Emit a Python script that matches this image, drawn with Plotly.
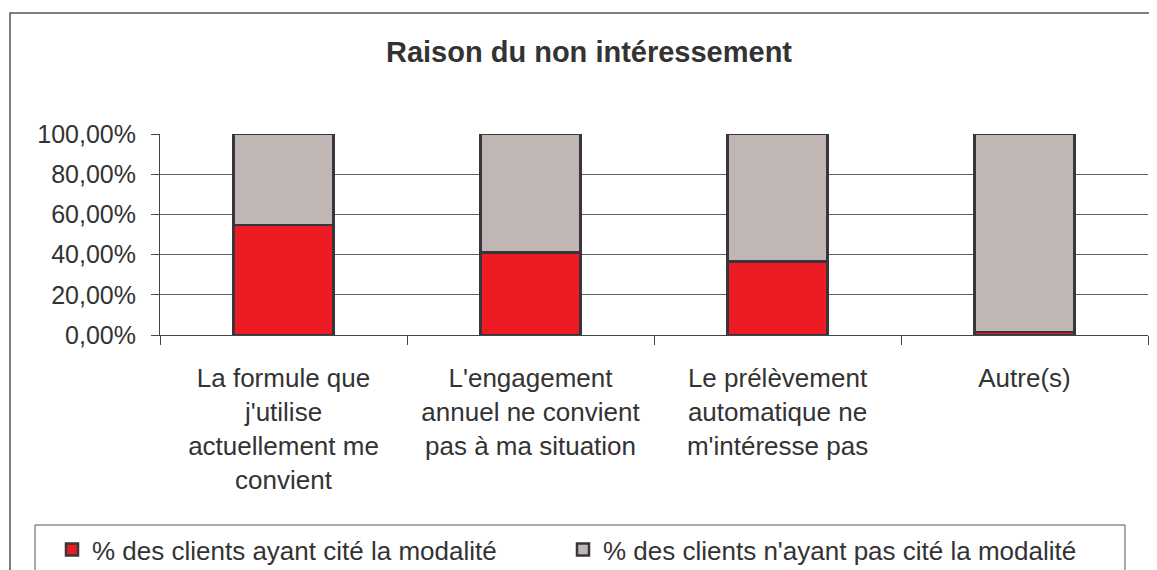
"""Stacked bar chart: Raison du non intéressement."""

import plotly.graph_objects as go

categories = [
    "La formule que<br>j'utilise<br>actuellement me<br>convient",
    "L'engagement<br>annuel ne convient<br>pas à ma situation",
    "Le prélèvement<br>automatique ne<br>m'intéresse pas",
    "Autre(s)",
]
cited = [0.547, 0.41, 0.365, 0.015]
not_cited = [1 - v for v in cited]

series_names = ["% des clients ayant cité la modalité", "% des clients n'ayant pas cité la modalité"]
colors = ["#ED1C24", "#C0B7B4"]
legend_widths = [466, 540]

# the page body adds an 8px margin, so layout is set in figure pixels
W, H = 1149, 562
L, R, T, B = 152, 9, 126, 235
plot_w = W - L - R
plot_h = H - T - B


def px_x(x):
    return (x - L) / plot_w


def px_y(y):
    return (H - B - y) / plot_h


FONT = "Liberation Sans, Arial, sans-serif"
TEXT = "#333333"

fig = go.Figure()
for name, vals, color, lw in zip(series_names, [cited, not_cited], colors, legend_widths):
    fig.add_trace(
        go.Bar(
            x=categories,
            y=vals,
            name=name,
            legendwidth=lw,
            marker={"color": color, "line": {"color": "#38363a", "width": 2.5}},
        )
    )

fig.update_layout(
    width=W,
    height=H,
    barmode="stack",
    bargap=0.595,
    separators=", ",
    margin={"l": L, "r": R, "t": T, "b": B, "autoexpand": False},
    paper_bgcolor="white",
    plot_bgcolor="white",
    font={"family": FONT, "color": TEXT, "size": 26},
    title={
        "text": "<b>Raison du non intéressement</b>",
        "x": 581 / W,
        "xref": "container",
        "xanchor": "center",
        "y": 1 - 44 / H,
        "yanchor": "middle",
        "font": {"size": 29, "color": TEXT},
    },
    showlegend=True,
    legend={
        "orientation": "h",
        "x": px_x(44),
        "xanchor": "left",
        "y": px_y(518),
        "yanchor": "top",
        "font": {"size": 26, "color": TEXT},
        "traceorder": "normal",
        "bgcolor": "rgba(0,0,0,0)",
        "itemwidth": 30,
    },
    shapes=[
        {
            "type": "rect", "xref": "paper", "yref": "paper",
            "x0": px_x(27), "x1": px_x(1117), "y0": px_y(517), "y1": px_y(600),
            "line": {"color": "#555555", "width": 1},
        },
        {
            "type": "rect", "xref": "paper", "yref": "paper",
            "x0": px_x(2), "x1": px_x(1170), "y0": px_y(5), "y1": px_y(600),
            "line": {"color": "#555555", "width": 1.5},
        },
    ],
)

fig.update_yaxes(
    range=[0, 1],
    tickvals=[0, 0.2, 0.4, 0.6, 0.8, 1.0],
    tickformat=".2%",
    showgrid=True,
    gridcolor="#5f5f5f",
    gridwidth=1,
    showline=True,
    linecolor="#444444",
    linewidth=1,
    ticks="outside",
    ticklen=8,
    tickcolor="#444444",
    zeroline=False,
    ticklabelstandoff=10,
    tickfont={"size": 25, "color": TEXT},
)
fig.update_xaxes(
    showline=True,
    linecolor="#444444",
    linewidth=1,
    ticks="outside",
    tickson="boundaries",
    ticklen=9,
    tickcolor="#444444",
    showgrid=False,
    tickangle=0,
    ticklabelstandoff=20,
    tickfont={"size": 26, "color": TEXT},
)

fig.write_html("out.html")
